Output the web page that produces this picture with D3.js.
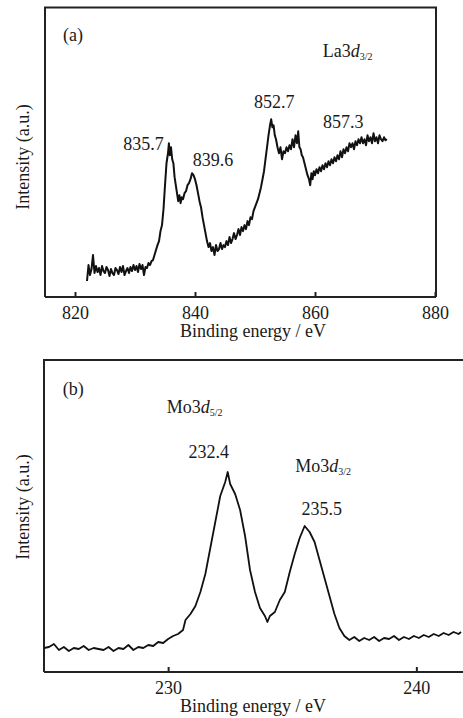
<!DOCTYPE html>
<html>
<head>
<meta charset="utf-8">
<script src="https://cdn.jsdelivr.net/npm/d3@7"></script>
<style>
  body { margin: 0; background: #fff; }
</style>
</head>
<body>
<div class="chart"></div>
<script>
var svgWidth = 463;
var svgHeight = 718;
var FONT = "Liberation Serif";

// panel (a): La3d spectrum, binding energy (eV) / intensity (a.u.)
var laEnergy = [822.00, 822.25, 822.50, 822.75, 823.00, 823.25, 823.50, 823.75, 824.00, 824.25,
  824.50, 824.75, 825.00, 825.25, 825.50, 825.75, 826.00, 826.25, 826.50, 826.75, 827.00, 827.25,
  827.50, 827.75, 828.00, 828.25, 828.50, 828.75, 829.00, 829.25, 829.50, 829.75, 830.00, 830.25,
  830.50, 830.75, 831.00, 831.25, 831.50, 831.75, 832.00, 832.25, 832.50, 832.75, 833.00, 833.25,
  833.50, 833.75, 834.00, 834.25, 834.50, 834.75, 835.00, 835.25, 835.50, 835.65, 835.80, 836.00,
  836.20, 836.40, 836.60, 836.80, 837.00, 837.20, 837.40, 837.60, 837.80, 838.00, 838.25, 838.50,
  838.75, 839.00, 839.25, 839.50, 839.75, 840.00, 840.25, 840.50, 840.75, 841.00, 841.25, 841.50,
  841.75, 842.00, 842.25, 842.50, 842.75, 843.00, 843.25, 843.50, 843.75, 844.00, 844.25, 844.50,
  844.75, 845.00, 845.25, 845.50, 845.75, 846.00, 846.25, 846.50, 846.75, 847.00, 847.25, 847.50,
  847.75, 848.00, 848.25, 848.50, 848.75, 849.00, 849.25, 849.50, 849.75, 850.00, 850.25, 850.50,
  850.75, 851.00, 851.25, 851.50, 851.75, 852.00, 852.25, 852.50, 852.70, 852.90, 853.10, 853.30,
  853.50, 853.75, 854.00, 854.25, 854.50, 854.75, 855.00, 855.25, 855.50, 855.75, 856.00, 856.25,
  856.50, 856.75, 857.00, 857.20, 857.40, 857.60, 857.80, 858.00, 858.25, 858.50, 858.75, 859.00,
  859.20, 859.40, 859.60, 859.80, 860.00, 860.25, 860.50, 860.75, 861.00, 861.25, 861.50, 861.75,
  862.00, 862.25, 862.50, 862.75, 863.00, 863.25, 863.50, 863.75, 864.00, 864.25, 864.50, 864.75,
  865.00, 865.25, 865.50, 865.75, 866.00, 866.25, 866.50, 866.75, 867.00, 867.25, 867.50, 867.75,
  868.00, 868.25, 868.50, 868.75, 869.00, 869.25, 869.50, 869.75, 870.00, 870.25, 870.50, 870.75,
  871.00, 871.25, 871.50, 871.75, 872.00];
var laIntensity = [16, 32, 22, 28, 42, 24, 31, 25, 29, 22,
  31, 26, 24, 30, 27, 21, 28, 24, 22, 29, 27, 23,
  30, 25, 31, 22, 26, 29, 24, 30, 26, 32, 27, 31,
  25, 33, 28, 32, 22, 30, 29, 34, 32, 36, 37, 42,
  47, 52, 56, 66, 72, 88, 112, 134, 144, 154, 142, 150,
  138, 134, 120, 112, 104, 96, 102, 94, 100, 98, 104, 106,
  112, 114, 118, 124, 122, 118, 112, 104, 96, 90, 80, 72,
  64, 56, 50, 54, 46, 50, 42, 52, 46, 48, 54, 48,
  52, 50, 56, 52, 60, 54, 58, 64, 58, 62, 68, 62,
  70, 66, 72, 68, 76, 72, 80, 78, 86, 90, 94, 98,
  104, 110, 118, 126, 138, 150, 162, 172, 178, 170, 172, 162,
  158, 150, 144, 150, 138, 146, 144, 150, 146, 152, 148, 158,
  150, 162, 154, 166, 150, 148, 142, 140, 134, 128, 122, 118,
  112, 124, 118, 126, 122, 128, 124, 130, 126, 132, 128, 134,
  130, 136, 132, 138, 134, 140, 136, 142, 138, 146, 140, 148,
  144, 150, 146, 154, 150, 154, 148, 156, 152, 158, 154, 160,
  154, 158, 152, 162, 156, 160, 154, 164, 156, 160, 154, 162,
  158, 156, 160, 157, 158];

// panel (b): Mo3d spectrum
var moEnergy = [225.0, 225.2, 225.4, 225.6, 225.8, 226.0, 226.2, 226.4, 226.6, 226.8, 227.0, 227.2,
  227.4, 227.6, 227.8, 228.0, 228.2, 228.4, 228.6, 228.8, 229.0, 229.2, 229.4, 229.6, 229.8, 230.0,
  230.2, 230.4, 230.6, 230.7, 230.9, 231.1, 231.3, 231.5, 231.7, 231.9, 232.1, 232.3, 232.4, 232.5,
  232.7, 232.9, 233.1, 233.3, 233.5, 233.7, 233.9, 234.0, 234.1, 234.3, 234.5, 234.7, 234.9, 235.1,
  235.3, 235.5, 235.7, 235.9, 236.1, 236.3, 236.5, 236.7, 236.9, 237.1, 237.3, 237.5, 237.7, 237.9,
  238.1, 238.3, 238.5, 238.7, 238.9, 239.1, 239.3, 239.5, 239.7, 239.9, 240.1, 240.3, 240.5, 240.7,
  240.9, 241.1, 241.3, 241.5, 241.7, 241.8];
var moIntensity = [24, 25, 28, 22, 25, 21, 24, 23, 26, 22, 24, 23,
  22, 25, 21, 24, 23, 27, 22, 25, 24, 27, 26, 30, 29, 33,
  36, 38, 42, 52, 58, 66, 80, 98, 124, 150, 176, 190, 200, 188,
  178, 162, 136, 102, 80, 64, 56, 50, 56, 60, 72, 80, 100, 118,
  134, 146, 140, 130, 112, 94, 76, 58, 44, 36, 32, 35, 31, 34,
  32, 35, 31, 34, 33, 36, 32, 35, 33, 36, 34, 37, 35, 38,
  36, 39, 37, 40, 38, 40];

var laTicks = [820, 840, 860, 880];
var moTicks = [230, 240];

// annotations: [text, eV, intensity]
var laNotes = [["835.7", 831.4, 147], ["839.6", 843.0, 131],
  ["852.7", 853.2, 189], ["857.3", 864.7, 169]];
var moNotes = [["232.4", 231.64, 214], ["235.5", 236.19, 157]];

var svg = d3.select(".chart")
  .append("svg")
  .attr("width", svgWidth)
  .attr("height", svgHeight)
  .attr("font-family", FONT);

function drawPanel(opt) {
  var x = d3.scaleLinear().domain(opt.xDomain).range([opt.left, opt.right]);
  var y = d3.scaleLinear().domain(opt.yDomain).range([opt.bottom, opt.top]);
  var g = svg.append("g");

  // frame
  var frame = "M" + opt.left + "," + opt.bottom + "V" + opt.top + "H" + opt.frameRight;
  if (opt.closed) frame += "V" + opt.bottom;
  g.append("path").attr("d", frame)
    .attr("fill", "none").attr("stroke", "#222").attr("stroke-width", 2);

  // x axis, ticks pointing inward
  var axis = g.append("g")
    .attr("transform", "translate(0," + opt.bottom + ")")
    .call(d3.axisBottom(x).tickValues(opt.ticks).tickSizeInner(-5).tickSizeOuter(0).tickPadding(9));
  axis.attr("font-family", FONT);
  axis.select(".domain").attr("stroke", "#222").attr("stroke-width", 2)
    .attr("d", "M" + opt.left + ",0H" + opt.frameRight);
  axis.selectAll(".tick line").attr("stroke", "#222").attr("stroke-width", 2);
  axis.selectAll(".tick text").attr("font-size", 18).attr("fill", "#1a1a1a")
    .attr("font-family", FONT).attr("dy", "0.71em");

  g.append("text")
    .attr("x", 253).attr("y", opt.bottom + 40)
    .attr("text-anchor", "middle").attr("font-size", 18).attr("font-family", FONT)
    .attr("fill", "#1a1a1a")
    .text("Binding energy / eV");

  g.append("text")
    .attr("transform", "translate(29," + opt.yTitle + ") rotate(-90)")
    .attr("text-anchor", "middle").attr("font-size", 18).attr("font-family", FONT)
    .attr("fill", "#1a1a1a")
    .text("Intensity (a.u.)");

  var line = d3.line()
    .x(function(d) { return x(d[0]); })
    .y(function(d) { return y(d[1]); });

  g.append("path")
    .datum(d3.zip(opt.energy, opt.intensity))
    .attr("d", line)
    .attr("fill", "none")
    .attr("stroke", "#111")
    .attr("stroke-width", opt.lineWidth)
    .attr("stroke-linejoin", "round");

  opt.notes.forEach(function(n) {
    g.append("text").attr("x", x(n[1])).attr("y", y(n[2]))
      .attr("text-anchor", "middle").attr("font-size", 18).attr("font-family", FONT)
      .attr("fill", "#1a1a1a").text(n[0]);
  });

  g.append("text").attr("x", x(opt.panelPos[0])).attr("y", y(opt.panelPos[1]))
    .attr("font-size", 18).attr("font-family", FONT).attr("fill", "#1a1a1a").text(opt.panel);

  opt.orbitals.forEach(function(o) {
    var t = g.append("text").attr("x", x(o[1])).attr("y", y(o[2]))
      .attr("font-size", 18).attr("font-family", FONT).attr("fill", "#1a1a1a");
    t.append("tspan").text(o[0]);
    t.append("tspan").attr("font-style", "italic").text("d");
    t.append("tspan").attr("font-size", 10).attr("dy", 3).text(o[3]);
  });
}

drawPanel({
  xDomain: [815, 880], yDomain: [0, 290],
  left: 45, right: 435, top: 7.5, bottom: 297, frameRight: 436, closed: true,
  ticks: laTicks, energy: laEnergy, intensity: laIntensity, notes: laNotes,
  yTitle: 157, panel: "(a)", panelPos: [818, 256], lineWidth: 2,
  orbitals: [["La3", 861.3, 240, "3/2"]]
});

drawPanel({
  xDomain: [225, 242], yDomain: [0, 312],
  left: 44, right: 466, top: 360, bottom: 672, frameRight: 470, closed: false,
  ticks: moTicks, energy: moEnergy, intensity: moIntensity, notes: moNotes,
  yTitle: 507, panel: "(b)", panelPos: [225.76, 277], lineWidth: 1.8,
  orbitals: [["Mo3", 229.94, 259, "5/2"], ["Mo3", 235.12, 200, "3/2"]]
});
</script>
</body>
</html>
